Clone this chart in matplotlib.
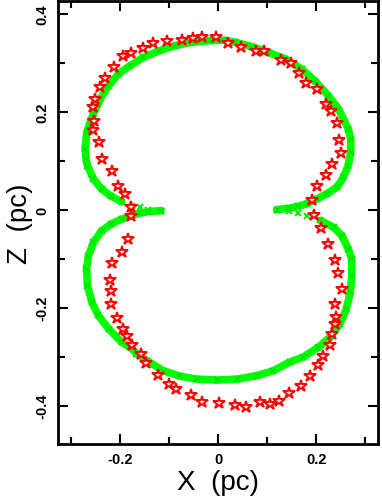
import matplotlib.pyplot as plt
from matplotlib.ticker import MultipleLocator

# red stars (X, Z) in pc
starX = [-0.255, -0.254, -0.255, -0.252, -0.241, -0.231, -0.213, -0.195, -0.178, -0.153,
         -0.133, -0.104, -0.075, -0.051, -0.033, -0.005, 0.019, 0.046, 0.076, 0.094,
         0.128, 0.149, 0.165, 0.179, 0.202, 0.219, 0.229, 0.242, 0.247, 0.250,
         0.231, 0.219, 0.202, 0.192, 0.195, 0.209, 0.224, 0.237, 0.245, 0.252,
         0.237, 0.240, 0.237, 0.231, 0.227, 0.213, 0.203, 0.187, 0.169, 0.145,
         0.124, 0.106, 0.085, 0.057, 0.033, 0.002, -0.034, -0.056, -0.087, -0.101,
         -0.124, -0.148, -0.158, -0.177, -0.187, -0.194, -0.206, -0.219, -0.220, -0.222,
         -0.216, -0.196, -0.185, -0.178, -0.178, -0.190, -0.204, -0.216, -0.238, -0.243]
starZ = [0.163, 0.182, 0.209, 0.226, 0.251, 0.269, 0.291, 0.313, 0.320, 0.331,
         0.341, 0.344, 0.346, 0.350, 0.353, 0.352, 0.340, 0.333, 0.324, 0.324,
         0.306, 0.299, 0.279, 0.258, 0.246, 0.215, 0.201, 0.176, 0.143, 0.115,
         0.093, 0.071, 0.049, 0.020, -0.010, -0.037, -0.071, -0.103, -0.130, -0.163,
         -0.192, -0.220, -0.233, -0.254, -0.276, -0.299, -0.318, -0.339, -0.360, -0.375,
         -0.391, -0.397, -0.393, -0.403, -0.399, -0.394, -0.392, -0.378, -0.366, -0.356,
         -0.337, -0.313, -0.294, -0.276, -0.257, -0.243, -0.221, -0.192, -0.167, -0.143,
         -0.109, -0.086, -0.060, -0.013, 0.006, 0.032, 0.049, 0.078, 0.103, 0.139]

# green curve (X, Z) in pc: upper lobe from right tip to left tip
upperX = [0.119, 0.145, 0.163, 0.180, 0.201, 0.221, 0.242, 0.255, 0.265, 0.270,
          0.270, 0.265, 0.245, 0.224, 0.197, 0.170, 0.136, 0.102, 0.068, 0.034,
          0.010, -0.020, -0.054, -0.088, -0.122, -0.153, -0.180, -0.204, -0.224, -0.241,
          -0.255, -0.261, -0.268, -0.272, -0.270, -0.267, -0.255, -0.238, -0.218, -0.197,
          -0.177, -0.160, -0.143, -0.117]
upperZ = [0.000, 0.003, 0.007, 0.012, 0.022, 0.032, 0.046, 0.066, 0.090, 0.117,
          0.144, 0.165, 0.206, 0.233, 0.263, 0.287, 0.308, 0.321, 0.333, 0.342,
          0.346, 0.345, 0.342, 0.335, 0.324, 0.311, 0.294, 0.277, 0.253, 0.226,
          0.195, 0.180, 0.159, 0.124, 0.103, 0.090, 0.063, 0.042, 0.027, 0.016,
          0.008, 0.005, 0.000, -0.002]
# lower lobe from left tip round the bottom back to right tip
lowerX = [-0.117, -0.143, -0.160, -0.177, -0.197, -0.218, -0.238, -0.255, -0.265, -0.269,
          -0.267, -0.258, -0.245, -0.224, -0.197, -0.180, -0.167, -0.146, -0.112, -0.078,
          -0.044, -0.003, 0.038, 0.078, 0.112, 0.146, 0.173, 0.204, 0.228, 0.248,
          0.261, 0.269, 0.272, 0.272, 0.265, 0.252, 0.235, 0.208, 0.180, 0.163,
          0.145, 0.119]
lowerZ = [-0.002, -0.004, -0.007, -0.012, -0.019, -0.029, -0.043, -0.067, -0.094, -0.121,
          -0.155, -0.189, -0.216, -0.243, -0.271, -0.281, -0.294, -0.308, -0.329, -0.340,
          -0.346, -0.348, -0.346, -0.339, -0.329, -0.311, -0.301, -0.281, -0.260, -0.233,
          -0.203, -0.169, -0.135, -0.101, -0.080, -0.053, -0.036, -0.022, -0.012, -0.007,
          -0.003, 0.000]

fig = plt.figure(figsize=(3.82, 5.02), dpi=100)
ax = fig.add_axes([0.152, 0.114, 0.838, 0.882])

green = '#00ff00'
for gx, gz in ((upperX, upperZ), (lowerX, lowerZ)):
    ax.plot(gx[:-4], gz[:-4], '-', color=green, lw=5.5, solid_capstyle='round', zorder=2)
    ax.plot(gx, gz, 'x', color='#00e600', ms=5, mew=1.4, zorder=2)
ax.plot(starX, starZ, '*', ls='none', ms=9, mfc='#ffe0e0', mec='#ff0000', mew=1.4, zorder=3)

ax.set_xlim(-0.327, 0.326)
ax.set_ylim(-0.478, 0.426)
ax.xaxis.set_major_locator(MultipleLocator(0.2))
ax.xaxis.set_minor_locator(MultipleLocator(0.1))
ax.yaxis.set_major_locator(MultipleLocator(0.2))
ax.yaxis.set_minor_locator(MultipleLocator(0.1))
fmt = plt.FuncFormatter(lambda v, p: '0' if abs(v) < 1e-9 else '%.1f' % v)
ax.xaxis.set_major_formatter(fmt)
ax.yaxis.set_major_formatter(fmt)
ax.tick_params(which='both', direction='in', top=True, right=True, width=1.5)
ax.tick_params(which='major', length=7, labelsize=10.5, pad=6)
ax.tick_params(which='minor', length=5)
for lab in ax.get_xticklabels() + ax.get_yticklabels():
    lab.set_fontweight('bold')
    lab.set_family('Liberation Sans')
for lab in ax.get_yticklabels():
    lab.set_rotation(90)
    lab.set_va('center')
for s in ax.spines.values():
    s.set_linewidth(2)

ax.set_xlabel('X  (pc)', fontsize=20, family='Liberation Sans', labelpad=2)
ax.set_ylabel('Z  (pc)', fontsize=20, family='Liberation Sans', labelpad=2)

fig.savefig('out.png', dpi=100)
